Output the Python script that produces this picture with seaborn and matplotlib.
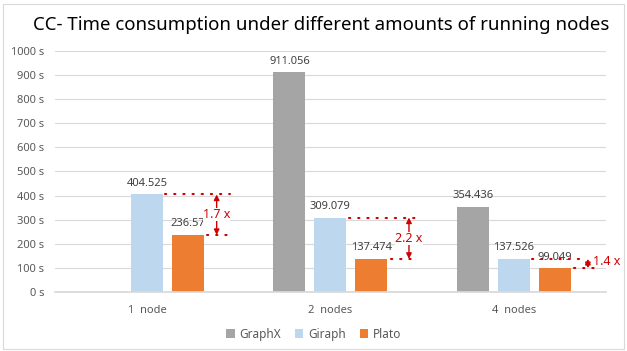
import seaborn as sns
import matplotlib.pyplot as plt
import pandas as pd
import numpy as np
from matplotlib.patches import Rectangle

# data
nodes = ['1  node', '2  nodes', '4  nodes']
systems = ['GraphX', 'Giraph', 'Plato']
graphx = [np.nan, 911.056, 354.436]
giraph = [404.525, 309.079, 137.526]
plato = [236.57, 137.474, 99.049]
speedups = ['1.7 x', '2.2 x', '1.4 x']

yticks = [0, 100, 200, 300, 400, 500, 600, 700, 800, 900, 1000]
colors = ['#A5A5A5', '#BDD7EE', '#ED7D31']
red = '#D00000'
grey_txt = '#595959'

df = pd.DataFrame({
    'nodes': nodes * 3,
    'system': [s for s in systems for _ in nodes],
    'time': graphx + giraph + plato,
}).dropna()

sns.set_theme(style="white")
plt.rcParams['font.family'] = ['Noto Sans', 'DejaVu Sans']

fig = plt.figure(figsize=(6.27, 3.51), dpi=100)
ax = fig.add_axes([0.088, 0.168, 0.878, 0.687])

sns.barplot(data=df, x='nodes', y='time', hue='system', order=nodes,
            hue_order=systems, palette=colors, width=0.67, gap=0.22,
            saturation=1, linewidth=0, edgecolor='none', ax=ax, legend=True)

for cont in ax.containers:
    ax.bar_label(cont, fmt='%g', padding=4, fontsize=8, color='#404040')

ax.set_ylim(0, 1000)
ax.set_xlim(-0.5, 2.5)
ax.set_yticks(yticks)
ax.set_yticklabels([f'{v} s' for v in yticks])
ax.yaxis.grid(True, color='#D9D9D9', linewidth=0.8)
ax.set_axisbelow(True)
for s in ['top', 'right', 'left']:
    ax.spines[s].set_visible(False)
ax.spines['bottom'].set_color('#D9D9D9')
ax.tick_params(axis='both', length=0, labelsize=8, labelcolor=grey_txt)
ax.tick_params(axis='y', pad=8)
ax.tick_params(axis='x', pad=9)
ax.set_xlabel('')
ax.set_ylabel('')

# speed-up annotations
arrow_dx = [0.38, 0.428, 0.403]
upper_end = [0.45, 0.49, 0.38]
dots = (0, (0.6, 3.8))
for i in range(3):
    hi, lo = giraph[i], plato[i]
    xa = i + arrow_dx[i]
    ax.plot([i + 0.1, i + upper_end[i]], [hi, hi], color=red, lw=1.5,
            linestyle=dots, dash_capstyle='round', clip_on=False)
    ax.plot([i + 0.33, i + 0.46], [lo, lo], color=red, lw=1.5,
            linestyle=dots, dash_capstyle='round', clip_on=False)
    ax.annotate('', xy=(xa, hi), xytext=(xa, lo),
                arrowprops=dict(arrowstyle='<|-|>', color=red, lw=1,
                                mutation_scale=8, shrinkA=0, shrinkB=0),
                annotation_clip=False)
    if i < 2:
        ax.text(xa, (hi + lo) / 2, speedups[i], color=red, fontsize=9,
                ha='center', va='center', zorder=5,
                bbox=dict(facecolor='white', edgecolor='none', pad=0))
    else:
        ax.text(xa + 0.03, hi - 10, speedups[i], color=red, fontsize=9,
                ha='left', va='center', clip_on=False)

leg = ax.legend(loc='center', bbox_to_anchor=(0.47, -0.175), ncol=3,
                frameon=False, fontsize=8.5, handlelength=0.7, handleheight=0.7,
                handletextpad=0.4, columnspacing=1.2)
for t in leg.get_texts():
    t.set_color(grey_txt)

fig.suptitle('CC- Time consumption under different amounts of running nodes',
             x=0.512, y=0.955, fontsize=13.4, color='black')

fig.patches.append(Rectangle((0.005, 0.005), 0.99, 0.985, transform=fig.transFigure,
                             fill=False, edgecolor='#D9D9D9', lw=0.8))

plt.savefig('out.png', dpi=100)
plt.close()
